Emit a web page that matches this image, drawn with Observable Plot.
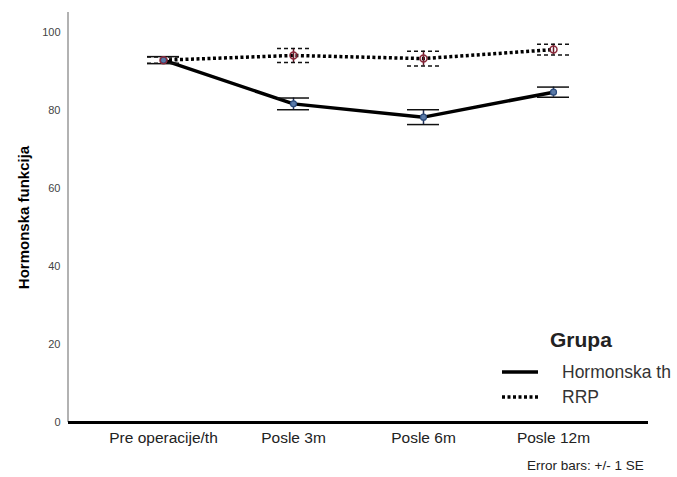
<!DOCTYPE html>
<html>
<head>
<meta charset="utf-8">
<script src="https://cdn.jsdelivr.net/npm/d3@7"></script>
<script src="https://cdn.jsdelivr.net/npm/@observablehq/plot@0.6"></script>
<style>
  html, body { margin: 0; padding: 0; background: #fff; }
  #wrap { position: relative; width: 677px; height: 477px; font-family: "Liberation Sans", Arial, sans-serif; }
  #wrap svg { font-family: "Liberation Sans", Arial, sans-serif; }
  g[aria-label="y-axis label"] text { font-weight: bold; font-size: 15px; fill: #000; }
  #legend { position: absolute; left: 500px; top: 328px; color: #333; }
  #legend .title { position: absolute; left: 50px; top: 0px; font-weight: bold; font-size: 21px; color: #222; white-space: nowrap; }
  #legend .row { position: absolute; left: 0; height: 18px; display: flex; align-items: center; white-space: nowrap; font-size: 17.5px; }
  #legend .row svg { margin-right: 22px; }
  #caption { position: absolute; left: 527px; top: 458px; font-size: 13.5px; color: #222; white-space: nowrap; }
</style>
</head>
<body>
<div id="wrap">
  <div id="chart"></div>
  <div id="legend">
    <div class="title">Grupa</div>
    <div class="row" style="top:35px"><svg width="40" height="8"><line x1="2" x2="38" y1="4" y2="4" stroke="#000" stroke-width="3.5"/></svg>Hormonska th</div>
    <div class="row" style="top:60px"><svg width="40" height="8"><line x1="2" x2="38" y1="4" y2="4" stroke="#000" stroke-width="3.5" stroke-dasharray="3,2.5"/></svg>RRP</div>
  </div>
  <div id="caption">Error bars: +/- 1 SE</div>
</div>
<script>
const categories = ["Pre operacije/th", "Posle 3m", "Posle 6m", "Posle 12m"];
const groups = ["Hormonska th", "RRP"];
const hormMean = [92.8, 81.6, 78.2, 84.6];
const hormSE = [0.9, 1.5, 1.9, 1.3];
const rrpMean = [92.8, 94.0, 93.2, 95.5];
const rrpSE = [0.8, 1.8, 1.9, 1.4];
const yTicks = [0, 20, 40, 60, 80, 100];

const horm = categories.map((c, i) => ({cat: c, group: groups[0], mean: hormMean[i], se: hormSE[i]}));
const rrp = categories.map((c, i) => ({cat: c, group: groups[1], mean: rrpMean[i], se: rrpSE[i]}));

const leftLine = (index, scales, values, dimensions) => {
  const {marginLeft, marginTop, height, marginBottom} = dimensions;
  return d3.create("svg:line")
    .attr("x1", marginLeft).attr("x2", marginLeft)
    .attr("y1", marginTop).attr("y2", height - marginBottom)
    .attr("stroke", "#999").attr("stroke-width", 1.5).node();
};

const cap = (data, which, dash) => Plot.ruleY(data, {
  x1: "cat", x2: "cat",
  y: d => which < 0 ? d.mean - d.se : d.mean + d.se,
  stroke: "#111", strokeWidth: 1.5, strokeDasharray: dash,
  insetLeft: -16, insetRight: -16
});

const chart = Plot.plot({
  width: 677,
  height: 477,
  marginTop: 12,
  marginBottom: 55,
  marginLeft: 68,
  marginRight: 29,
  x: {type: "point", domain: categories, padding: 0.717, label: null},
  y: {domain: [0, 105], label: null},
  marks: [
    leftLine,
    Plot.axisY({ticks: yTicks, tickSize: 0, tickPadding: 8, fontSize: 11, color: "#444", label: "Hormonska funkcija", labelAnchor: "center", labelOffset: 50, labelArrow: "none"}),
    Plot.axisX({tickSize: 0, tickPadding: 9, fontSize: 15.5, color: "#222", label: null}),
    Plot.ruleY([0], {stroke: "#000", strokeWidth: 3}),
    Plot.line(horm, {x: "cat", y: "mean", stroke: "#000", strokeWidth: 3.5}),
    Plot.line(rrp, {x: "cat", y: "mean", stroke: "#000", strokeWidth: 3.5, strokeDasharray: "3,2.5", strokeLinecap: "butt"}),
    Plot.ruleX(horm, {x: "cat", y1: d => d.mean - d.se, y2: d => d.mean + d.se, stroke: "#1f2f5a", strokeWidth: 1.5}),
    Plot.ruleX(rrp, {x: "cat", y1: d => d.mean - d.se, y2: d => d.mean + d.se, stroke: "#6b1a2a", strokeWidth: 1.5}),
    cap(horm, -1, null),
    cap(horm, 1, null),
    cap(rrp, -1, "4,3"),
    cap(rrp, 1, "4,3"),
    Plot.dot(horm, {x: "cat", y: "mean", r: 3, stroke: "#2b4a7a", fill: "#5a7aa8", strokeWidth: 1.2}),
    Plot.dot(rrp, {x: "cat", y: "mean", r: 3.5, stroke: "#8a2a3c", fill: "none", strokeWidth: 1.5})
  ]
});
document.getElementById("chart").appendChild(chart);
</script>
</body>
</html>
